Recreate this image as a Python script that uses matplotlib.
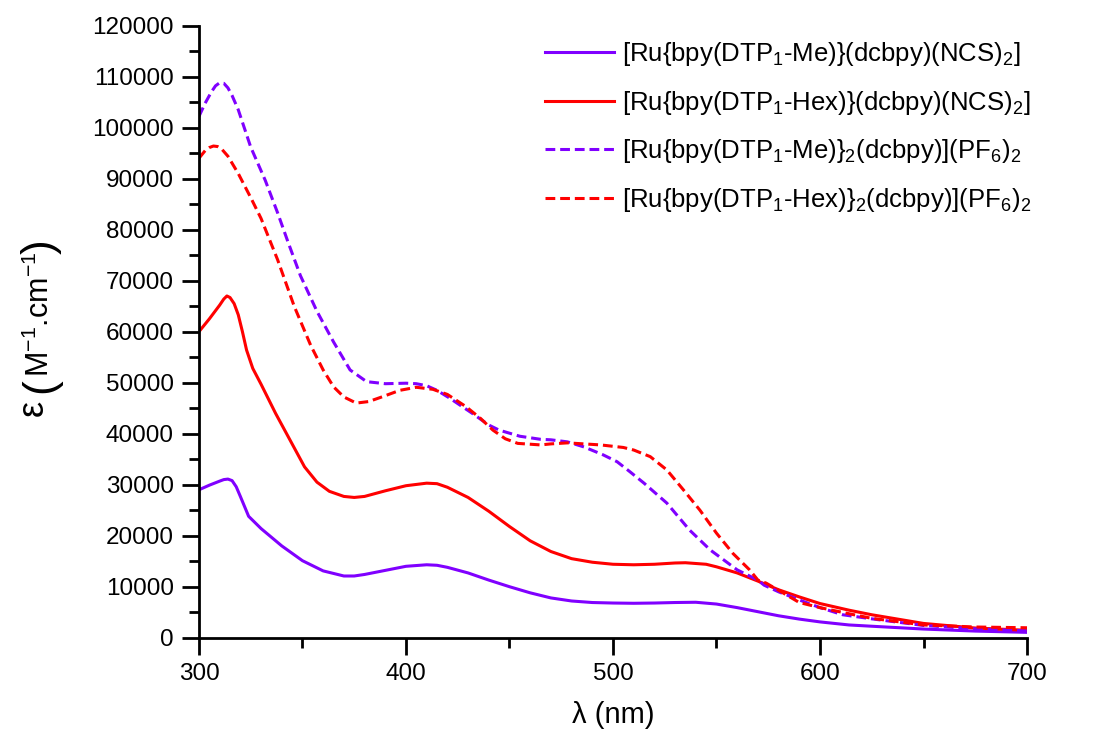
import matplotlib
matplotlib.use("Agg")
import matplotlib.pyplot as plt
from matplotlib.ticker import MultipleLocator

plt.rcParams["font.family"] = ["Liberation Sans", "DejaVu Sans"]
plt.rcParams["mathtext.fontset"] = "custom"
plt.rcParams["mathtext.rm"] = "Liberation Sans"
plt.rcParams["mathtext.it"] = "Liberation Sans"
plt.rcParams["mathtext.default"] = "regular"

PURPLE = "#8000ff"
RED = "#ff0000"

# [Ru{bpy(DTP1-Me)}(dcbpy)(NCS)2]
wl_me_ncs = [300, 305, 310, 312, 314, 316, 318, 320, 324, 330, 340, 350, 360, 370, 375,
             380, 390, 400, 410, 415, 420, 430, 440, 450, 460, 470, 480, 490, 500, 510,
             520, 530, 540, 550, 560, 570, 580, 590, 600, 614, 625, 650, 675, 700]
eps_me_ncs = [29000, 29900, 30700, 31000, 31100, 30800, 29600, 27700, 23800, 21400,
              18000, 15100, 13100, 12100, 12100, 12400, 13200, 14000, 14300, 14200,
              13800, 12700, 11300, 10000, 8800, 7800, 7200, 6900, 6800, 6750, 6800,
              6900, 6950, 6600, 5900, 5100, 4300, 3650, 3100, 2500, 2250, 1700, 1300,
              1050]

# [Ru{bpy(DTP1-Hex)}(dcbpy)(NCS)2]
wl_hex_ncs = [300, 305, 310, 312, 313.5, 315, 317, 319, 321, 323, 326, 330, 337, 345,
              351, 357, 363, 370, 375, 380, 390, 400, 410, 415, 420, 430, 440, 450, 460,
              470, 480, 490, 500, 510, 520, 530, 535, 545, 550, 560, 570, 580, 590, 600,
              614, 625, 650, 675, 700]
eps_hex_ncs = [60000, 62500, 65200, 66400, 67000, 66700, 65500, 63300, 60000, 56400,
               52800, 49700, 44000, 38000, 33500, 30500, 28700, 27700, 27500, 27700,
               28800, 29800, 30300, 30200, 29500, 27500, 24800, 21800, 19000, 16900,
               15500, 14800, 14400, 14300, 14400, 14650, 14700, 14400, 13900, 12700,
               11100, 9400, 8000, 6700, 5400, 4500, 2800, 1900, 1450]

# [Ru{bpy(DTP1-Me)}2(dcbpy)](PF6)2
wl_me_pf6 = [300, 303, 306, 308, 310, 312, 314, 316, 319, 325, 332, 338, 343, 349, 357,
             365, 373, 381, 390, 400, 405, 410, 415, 421, 432, 440, 445, 455, 465, 470,
             478, 486, 495, 502, 508, 515, 526, 537, 547, 560, 570, 573, 580, 592, 600,
             611, 625, 650, 675, 700]
eps_me_pf6 = [102200, 104800, 107000, 108200, 108800, 108700, 107800, 106300, 103500,
              96200, 89700, 83300, 77600, 71000, 64000, 58000, 52500, 50200, 49800,
              49900, 49800, 49400, 48500, 47000, 44000, 41700, 40700, 39500, 38900,
              38800, 38400, 37400, 35900, 34500, 32600, 30300, 26400, 21100, 17200,
              13300, 11300, 10300, 9000, 7100, 5900, 4500, 3700, 2400, 1750, 1350]

# [Ru{bpy(DTP1-Hex)}2(dcbpy)](PF6)2
wl_hex_pf6 = [300, 303, 305, 307, 309, 311, 314, 319, 325, 330, 338, 346, 354, 360, 365,
              370, 376, 382, 389, 397, 405, 413, 420, 429, 436, 442, 448, 454, 465, 470,
              478, 494, 505, 510, 518, 526, 534, 542, 550, 558, 566, 570, 574, 580, 590,
              600, 614, 625, 650, 675, 700]
eps_hex_pf6 = [94000, 95500, 96100, 96400, 96300, 95800, 94400, 91000, 86300, 82200,
               74100, 65000, 57300, 52500, 49200, 47200, 46000, 46300, 47300, 48500,
               49100, 48700, 47700, 45300, 43000, 40700, 39000, 38100, 37800, 38000,
               38200, 37800, 37300, 36800, 35500, 32900, 29000, 25000, 20500, 16500,
               13300, 11300, 10700, 9300, 6900, 5900, 4700, 3800, 2500, 2100, 1950]

labels = [
    "[Ru{bpy(DTP$_1$-Me)}(dcbpy)(NCS)$_2$]",
    "[Ru{bpy(DTP$_1$-Hex)}(dcbpy)(NCS)$_2$]",
    "[Ru{bpy(DTP$_1$-Me)}$_2$(dcbpy)](PF$_6$)$_2$",
    "[Ru{bpy(DTP$_1$-Hex)}$_2$(dcbpy)](PF$_6$)$_2$",
]

fig = plt.figure(figsize=(11.01, 7.33), dpi=100)
ax = fig.add_axes([0.1807, 0.130, 0.7521, 0.835])

lw = 2.2
dash = (3.2, 1.6)
ax.plot(wl_me_ncs, eps_me_ncs, color=PURPLE, lw=lw, label=labels[0])
ax.plot(wl_hex_ncs, eps_hex_ncs, color=RED, lw=lw, label=labels[1])
ax.plot(wl_me_pf6, eps_me_pf6, color=PURPLE, lw=lw, dashes=dash, label=labels[2])
ax.plot(wl_hex_pf6, eps_hex_pf6, color=RED, lw=lw, dashes=dash, label=labels[3])

ax.set_xlim(300, 700)
ax.set_ylim(0, 120000)
ax.xaxis.set_major_locator(MultipleLocator(100))
ax.xaxis.set_minor_locator(MultipleLocator(50))
ax.yaxis.set_major_locator(MultipleLocator(10000))
ax.yaxis.set_minor_locator(MultipleLocator(5000))

for side in ("top", "right"):
    ax.spines[side].set_visible(False)
for side in ("left", "bottom"):
    ax.spines[side].set_linewidth(2)
ax.tick_params(which="major", direction="out", length=12, width=2, labelsize=17.5, pad=6)
ax.tick_params(which="minor", direction="out", length=7, width=2)

ax.set_xlabel("λ (nm)", fontsize=21)
ax.xaxis.set_label_coords(0.5, -0.103)

# y label built from pieces so the parentheses can be larger than the text
fig.text(0.030, 0.443, "ε", rotation=90, fontsize=26, ha="center", va="center")
fig.text(0.037, 0.474, "(", rotation=90, fontsize=32, ha="center", va="center")
fig.text(0.037, 0.571, "M$^{-1}$.cm$^{-1}$", rotation=90, fontsize=22,
         ha="center", va="center")
fig.text(0.037, 0.664, ")", rotation=90, fontsize=32, ha="center", va="center")

ax.legend(loc="upper left", bbox_to_anchor=(0.495, 0.945), bbox_transform=fig.transFigure,
          frameon=False, fontsize=18.5, handlelength=2.7, handletextpad=0.3,
          labelspacing=0.8, borderpad=0, borderaxespad=0)

fig.savefig("out.png", dpi=100)
